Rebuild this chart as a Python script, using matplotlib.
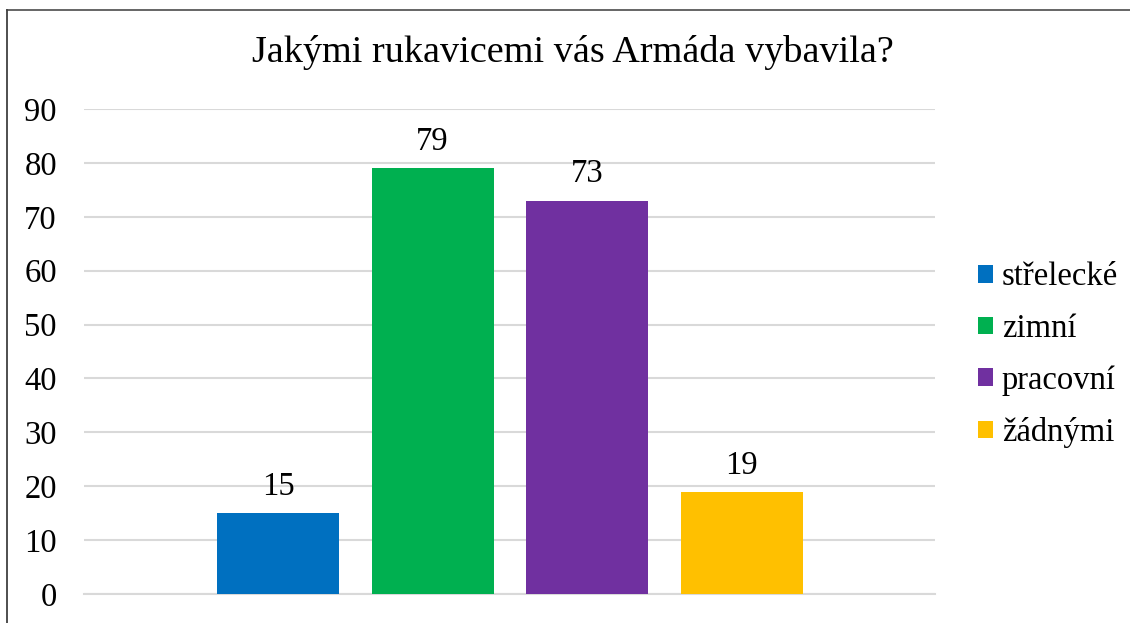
import matplotlib
matplotlib.use("Agg")
import matplotlib.pyplot as plt
from matplotlib.patches import Patch
from matplotlib.lines import Line2D

plt.rcParams['font.family'] = ['Liberation Serif', 'DejaVu Serif']

title = "Jakými rukavicemi vás Armáda vybavila?"
categories = ["střelecké", "zimní", "pracovní", "žádnými"]
values = [15, 79, 73, 19]
colors = ["#0070C0", "#00B050", "#7030A0", "#FFC000"]
yticks = [0, 10, 20, 30, 40, 50, 60, 70, 80, 90]

W, H = 1130, 623
fig = plt.figure(figsize=(W / 100, H / 100), dpi=100)
ax = fig.add_axes([84 / W, 29 / H, (935 - 84) / W, (594 - 109) / H])

positions = list(range(len(categories)))
bars = ax.bar(positions, values, width=0.79, color=colors, zorder=3)
for b, v in zip(bars, values):
    ax.annotate(str(v), (b.get_x() + b.get_width() / 2, v), xytext=(0, 8),
                textcoords="offset points", ha="center", va="bottom",
                fontsize=23.5, color="#000000")

ax.set_xlim(-1.256, 4.252)
ax.set_ylim(0, 90)
ax.set_yticks(yticks)
ax.set_yticklabels([str(t) for t in yticks], fontsize=23.5)
ax.set_xticks([])
ax.tick_params(axis='y', length=0, pad=19.5)
ax.grid(axis='y', color="#d9d9d9", linewidth=1.5, zorder=0)
for s in ["top", "right", "left"]:
    ax.spines[s].set_visible(False)
ax.spines["bottom"].set_color("#d9d9d9")
ax.spines["bottom"].set_linewidth(1.5)

fig.text(573 / W, 1 - 53 / H, title, ha="center", va="center", fontsize=27.5)

handles = [Patch(facecolor=c, edgecolor='none') for c in colors]
leg = fig.legend(handles, categories, loc="center left",
                 bbox_to_anchor=(978 / W, 1 - 355 / H), frameon=False,
                 fontsize=23.5, handlelength=0.46, handleheight=0.46,
                 handletextpad=0.27, labelspacing=0.65, borderpad=0,
                 borderaxespad=0)

# chart border (top and left visible)
fig.add_artist(Line2D([7 / W, 1], [1 - 9.5 / H, 1 - 9.5 / H], color="#595959", linewidth=1.3))
fig.add_artist(Line2D([7 / W, 7 / W], [0, 1 - 9.5 / H], color="#404040", linewidth=1.3))

fig.savefig("out.png", dpi=100)
